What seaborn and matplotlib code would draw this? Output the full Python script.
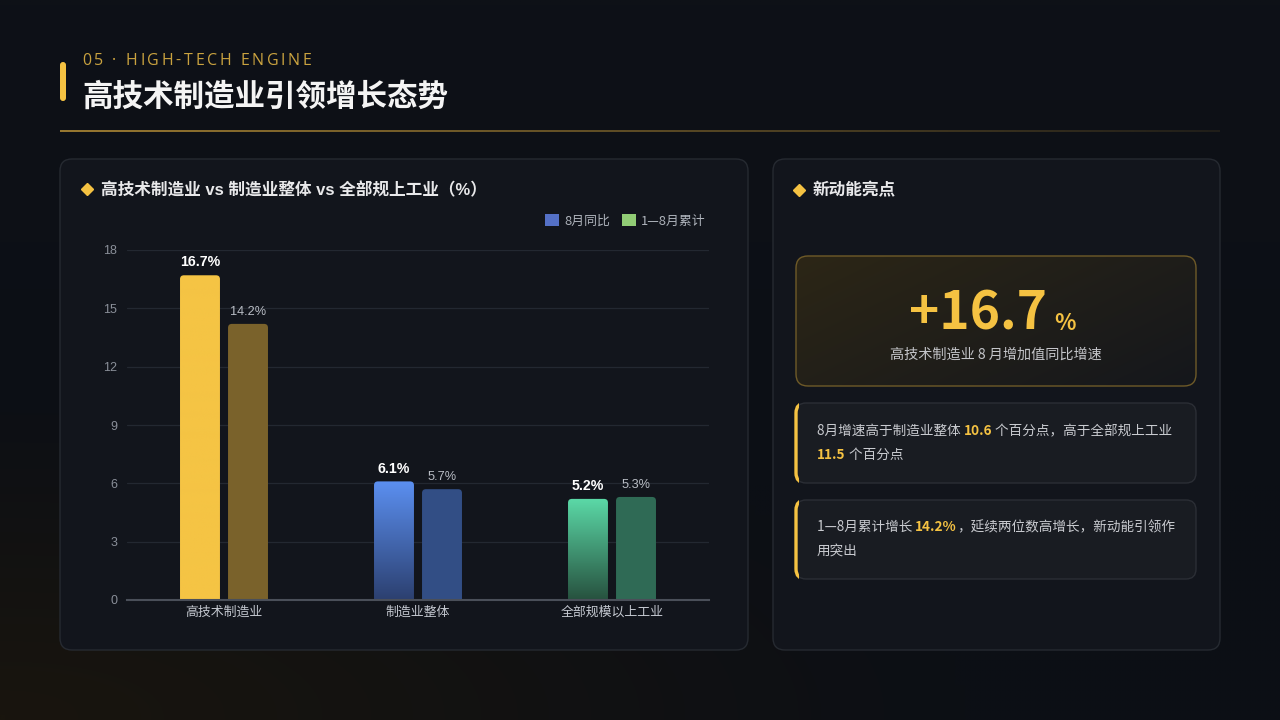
import numpy as np
import pandas as pd
import matplotlib
matplotlib.use('Agg')
import matplotlib.pyplot as plt
import seaborn as sns
from matplotlib.patches import FancyBboxPatch, Rectangle, Patch
from matplotlib.colors import to_rgb

# 数据
categories = ['高技术制造业', '制造业整体', '全部规模以上工业']
series_names = ['8月同比', '1—8月累计']
aug_yoy = [16.7, 6.1, 5.2]
jan_aug_cum = [14.2, 5.7, 5.3]
y_ticks = [0, 3, 6, 9, 12, 15, 18]

# 颜色：8月同比为渐变(顶, 底)，累计为纯色
aug_colors = [('#f5c444', '#f5c444'), ('#5b8ff0', '#2c4070'), ('#5bd9a7', '#27523f')]
cum_colors = ['#7a622b', '#324e85', '#2f6a55']
legend_colors = ['#5470c6', '#91cc75']
gold = '#f5c242'

sns.set_theme(style='dark')
plt.rcParams['font.family'] = ['Noto Sans CJK SC', 'DejaVu Sans']
plt.rcParams['axes.unicode_minus'] = False
num_font = ['Liberation Sans', 'DejaVu Sans']

fig = plt.figure(figsize=(12.8, 7.2), dpi=100)
fig.patch.set_facecolor('#0c0f15')

# 背景层，像素坐标
bg = fig.add_axes([0, 0, 1, 1])
yy, xx = np.mgrid[0:1:72j, 0:1:128j]
base = np.array(to_rgb('#0c0f15'))
warm = np.array(to_rgb('#19150e'))
top = np.array(to_rgb('#10131a'))
w = np.clip(1 - np.hypot(xx * 1.2, (1 - yy) * 2.0) / 0.9, 0, 1)[..., None]
t = np.clip(1 - yy * 1.5, 0, 1)[..., None]
img = base * (1 - w) + warm * w
img = img * (1 - 0.5 * t) + top * 0.5 * t
bg.imshow(img, extent=(0, 1280, 720, 0), aspect='auto', interpolation='bilinear', zorder=0)
bg.set_xlim(0, 1280)
bg.set_ylim(720, 0)
bg.axis('off')


def rbox(x0, y0, x1, y1, r, fc, ec, lw=1.0, z=1):
    p = FancyBboxPatch((x0 + r, y0 + r), x1 - x0 - 2 * r, y1 - y0 - 2 * r,
                       boxstyle=f'round,pad={r},rounding_size={r}',
                       fc=fc, ec=ec, lw=lw, zorder=z)
    bg.add_patch(p)
    return p


def spaced_text(x, y, s, spacing, **kw):
    prev = bg.text(x, y, s[0], ha='left', va='center', **kw)
    for ch in s[1:]:
        prev = bg.annotate(ch, xy=(1, 0.5), xycoords=prev, xytext=(spacing, 0),
                           textcoords='offset points', ha='left', va='center', **kw)


def rich_line(x, y, parts, size=9.8):
    prev = None
    for txt, hl in parts:
        kw = dict(fontsize=size, color=gold if hl else '#c9cbd0',
                  fontweight='bold' if hl else 'normal', zorder=5)
        if prev is None:
            prev = bg.text(x, y, txt, ha='left', va='center', **kw)
        else:
            prev = bg.annotate(txt, xy=(1, 0.5), xycoords=prev, ha='left', va='center', **kw)


# 标题区
rbox(60, 62, 66, 101, 3, gold, 'none', 0, z=2)
spaced_text(82, 61, '05 · HIGH-TECH ENGINE', 1.9, fontsize=11.5, color='#c9a23f',
            family=['Open Sans', 'DejaVu Sans'])
bg.text(82, 97, '高技术制造业引领增长态势', fontsize=22, fontweight='bold', color='#f4f4f4',
        ha='left', va='center', zorder=3)
line = np.zeros((1, 200, 4))
line[..., :3] = to_rgb('#b08a35')
line[..., 3] = np.linspace(0.85, 0.12, 200)
bg.imshow(line, extent=(60, 1220, 132, 130.6), aspect='auto', zorder=2)

# 面板
rbox(60, 159, 748, 650, 12, '#12151c', '#262a31', 1, z=1)
rbox(773, 159, 1220, 650, 12, '#12151c', '#262a31', 1, z=1)

bg.plot([87], [189], marker='D', ms=6.5, color=gold, zorder=3)
bg.text(101, 190, '高技术制造业 vs 制造业整体 vs 全部规上工业（%）', fontsize=12,
        fontweight='bold', color='#e8e8ea', ha='left', va='center', zorder=3,
        family=['Liberation Sans', 'Noto Sans CJK SC'])
bg.plot([799], [190], marker='D', ms=6.5, color=gold, zorder=3)
bg.text(813, 190, '新动能亮点', fontsize=12, fontweight='bold', color='#e8e8ea',
        ha='left', va='center', zorder=3)

# 亮点卡片
hb = rbox(796, 256, 1196, 386, 12, 'none', '#6e5a28', 1.0, z=3)
gy, gx = np.mgrid[0:1:40j, 0:1:100j]
gw = np.clip((gx * 0.6 + gy * 0.4), 0, 1)[..., None]
card = np.array(to_rgb('#2c2616')) * (1 - gw) + np.array(to_rgb('#15171c')) * gw
im = bg.imshow(card, extent=(796, 1196, 386, 256), aspect='auto', zorder=2,
               interpolation='bilinear')
im.set_clip_path(hb)
bg.set_xlim(0, 1280)
bg.set_ylim(720, 0)
bg.text(1047, 330, '+16.7', fontsize=37, fontweight='bold', color=gold,
        ha='right', va='baseline', zorder=4)
bg.text(1054, 330, '%', fontsize=16, fontweight='bold', color=gold,
        ha='left', va='baseline', zorder=4)
bg.text(996, 355, '高技术制造业 8 月增加值同比增速', fontsize=10.2, color='#c4c5c9',
        ha='center', va='center', zorder=4)

# 说明卡片
for (y0, y1) in [(403, 483), (500, 579)]:
    rbox(796, y0, 1196, y1, 10, '#191c22', '#2b2e35', 1, z=2)
    acc = rbox(796, y0, 1196, y1, 10, 'none', gold, 2.4, z=3)
    acc.set_clip_path(Rectangle((790, y0 - 5), 9, y1 - y0 + 10, transform=bg.transData))

rich_line(817, 431, [('8月增速高于制造业整体 ', False), ('10.6', True),
                     (' 个百分点，高于全部规上工业', False)])
rich_line(817, 455, [('11.5', True), (' 个百分点', False)])
rich_line(817, 527, [('1—8月累计增长 ', False), ('14.2%', True),
                     ('，延续两位数高增长，新动能引领作', False)])
rich_line(817, 551, [('用突出', False)])

# 柱状图
df = pd.DataFrame({
    'category': categories * 2,
    'series': [s for s in series_names for _ in categories],
    'value': aug_yoy + jan_aug_cum,
})

ax = fig.add_axes([127 / 1280, 1 - 600 / 720, 582 / 1280, 350 / 720])
ax.set_facecolor('none')
sns.barplot(data=df, x='category', y='value', hue='series', order=categories,
            hue_order=series_names, palette=legend_colors, width=0.495, gap=0.168,
            saturation=1, legend=False, ax=ax)

for s_idx, cont in enumerate(ax.containers):
    for i, bar in enumerate(cont):
        x, bw, h = bar.get_x(), bar.get_width(), bar.get_height()
        bar.set_visible(False)
        shape = FancyBboxPatch((x, -0.5), bw, h + 0.5,
                               boxstyle='round,pad=0,rounding_size=0.02',
                               mutation_aspect=10, lw=0, zorder=2)
        if s_idx == 0:
            c_top, c_bot = aug_colors[i]
            shape.set_facecolor('none')
            ax.add_patch(shape)
            grad = np.linspace(0, 1, 64)[:, None, None]
            arr = np.array(to_rgb(c_top)) * (1 - grad) + np.array(to_rgb(c_bot)) * grad
            gim = ax.imshow(arr, extent=(x, x + bw, 0, h), aspect='auto', zorder=2,
                            interpolation='bilinear')
            gim.set_clip_path(shape)
            ax.text(x + bw / 2, h + 0.3, f'{h:.1f}%', ha='center', va='bottom',
                    fontsize=10.2, fontweight='bold', color='#ffffff', family=num_font)
        else:
            shape.set_facecolor(cum_colors[i])
            ax.add_patch(shape)
            ax.text(x + bw / 2, h + 0.3, f'{h:.1f}%', ha='center', va='bottom',
                    fontsize=9.2, color='#b9bdc5', family=num_font)

ax.set_xlim(-0.5, 2.5)
ax.set_ylim(0, 18)
ax.set_yticks(y_ticks)
ax.set_xlabel('')
ax.set_ylabel('')
ax.grid(axis='y', color='#232831', lw=0.9)
ax.grid(axis='x', visible=False)
ax.set_axisbelow(True)
for sp in ['top', 'right', 'left']:
    ax.spines[sp].set_visible(False)
ax.spines['bottom'].set_color('#4a4f59')
ax.spines['bottom'].set_linewidth(1.5)
ax.tick_params(axis='y', length=0, pad=7, labelsize=9, labelcolor='#8a8f99')
ax.tick_params(axis='x', length=0, pad=4, labelsize=9.3, labelcolor='#c4c8d0')
for lab in ax.get_yticklabels():
    lab.set_family(num_font)

handles = [Patch(facecolor=c, edgecolor='none', label=n) for c, n in zip(legend_colors, series_names)]
fig.legend(handles=handles, loc='center right', bbox_to_anchor=(712 / 1280, 1 - 221 / 720),
           ncol=2, frameon=False, fontsize=9.3, labelcolor='#aeb3bb', handlelength=1.1,
           handleheight=1.0, handletextpad=0.4, columnspacing=0.9, borderpad=0)

fig.savefig('out.png', dpi=100, facecolor=fig.get_facecolor())
